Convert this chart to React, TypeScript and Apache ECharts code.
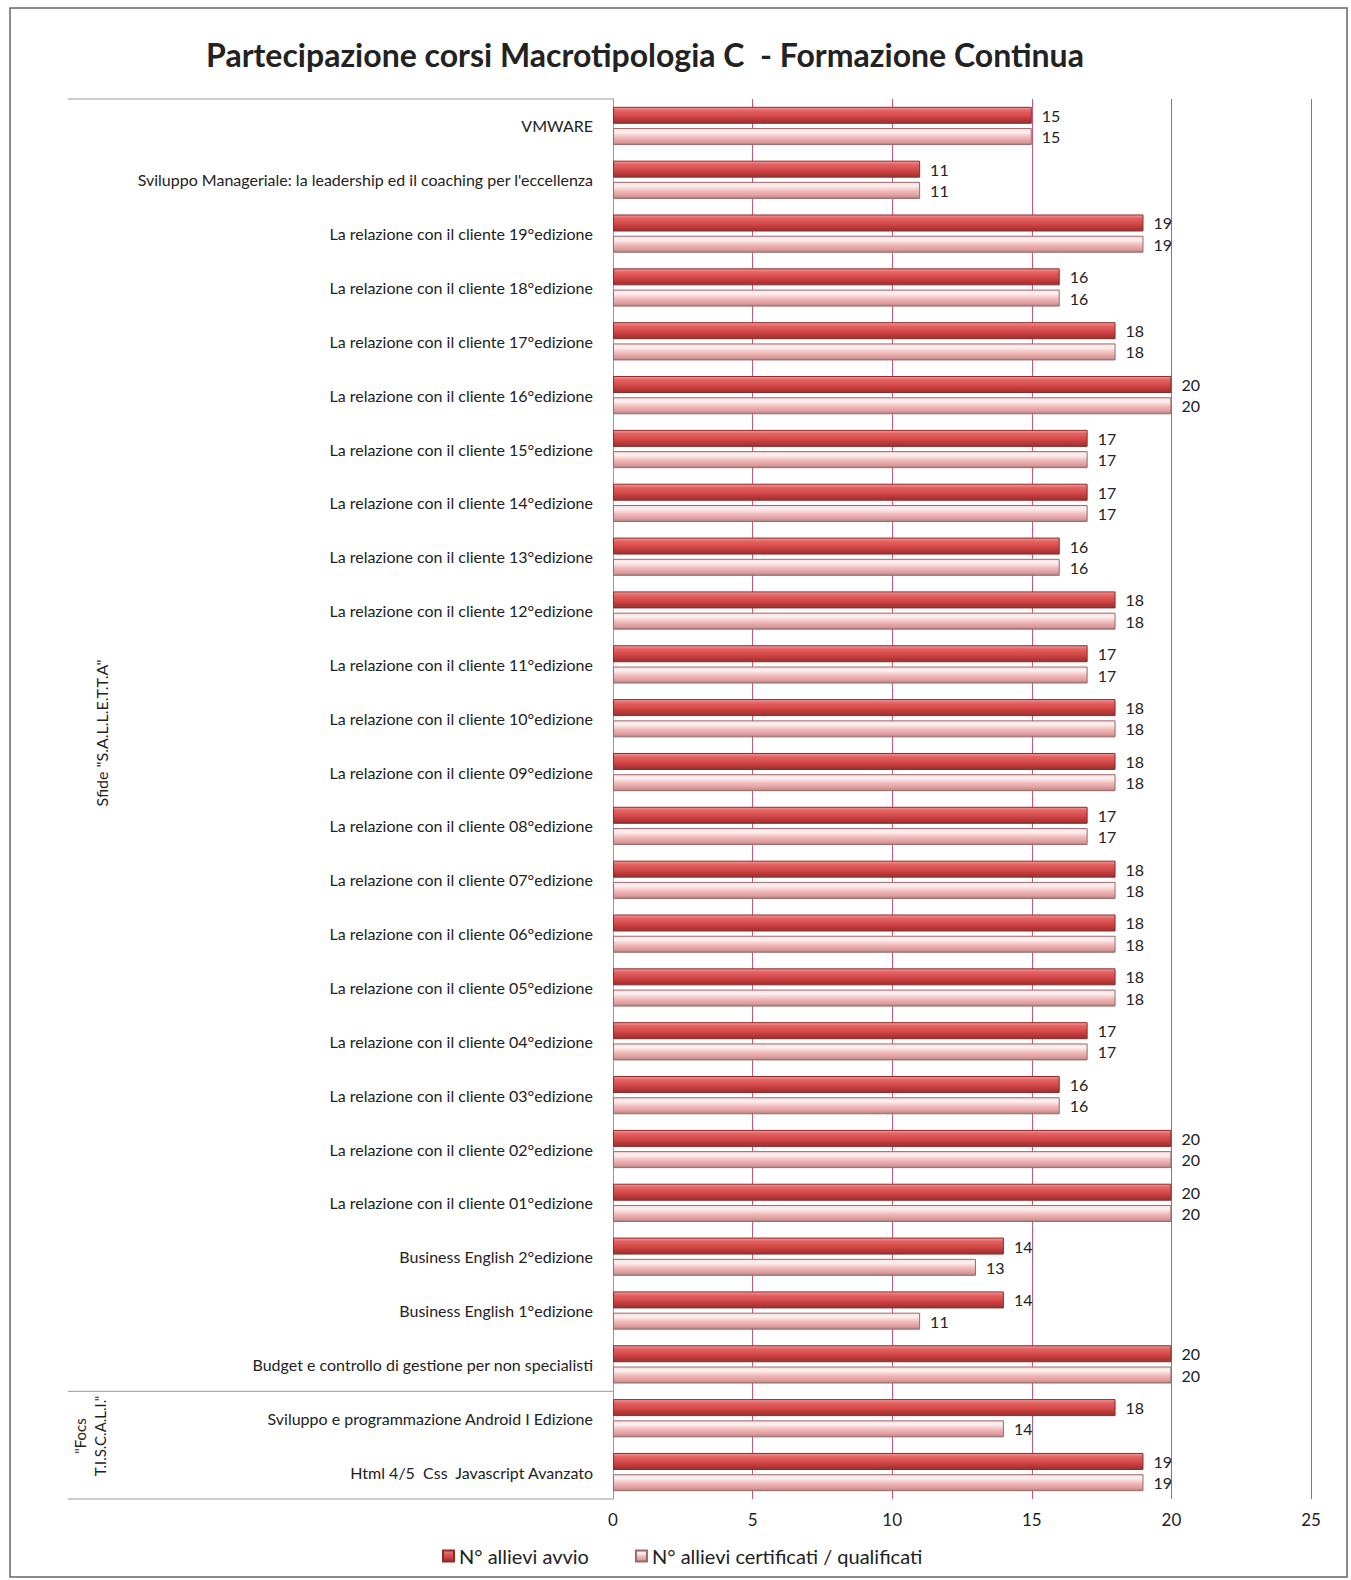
import React, { useEffect, useRef } from "react";
import * as echarts from "echarts";

const categories = [
  "VMWARE",
  "Sviluppo Manageriale: la leadership ed il coaching per l'eccellenza",
  "La relazione con il cliente 19°edizione",
  "La relazione con il cliente 18°edizione",
  "La relazione con il cliente 17°edizione",
  "La relazione con il cliente 16°edizione",
  "La relazione con il cliente 15°edizione",
  "La relazione con il cliente 14°edizione",
  "La relazione con il cliente 13°edizione",
  "La relazione con il cliente 12°edizione",
  "La relazione con il cliente 11°edizione",
  "La relazione con il cliente 10°edizione",
  "La relazione con il cliente 09°edizione",
  "La relazione con il cliente 08°edizione",
  "La relazione con il cliente 07°edizione",
  "La relazione con il cliente 06°edizione",
  "La relazione con il cliente 05°edizione",
  "La relazione con il cliente 04°edizione",
  "La relazione con il cliente 03°edizione",
  "La relazione con il cliente 02°edizione",
  "La relazione con il cliente 01°edizione",
  "Business English 2°edizione",
  "Business English 1°edizione",
  "Budget e controllo di gestione per non specialisti",
  "Sviluppo e programmazione Android I Edizione",
  "Html 4/5  Css  Javascript Avanzato",
];

const avvio = [15, 11, 19, 16, 18, 20, 17, 17, 16, 18, 17, 18, 18, 17, 18, 18, 18, 17, 16, 20, 20, 14, 14, 20, 18, 19];
const certificati = [15, 11, 19, 16, 18, 20, 17, 17, 16, 18, 17, 18, 18, 17, 18, 18, 18, 17, 16, 20, 20, 13, 11, 20, 14, 19];

const seriesNames = ["N° allievi avvio", "N° allievi certificati / qualificati"];
const groupLabels = ['Sfide "S.A.L.L.E.T.T.A"', '"Focs\nT.I.S.C.A.L.I."'];
const xTicks = { min: 0, max: 25, interval: 5 };

const FONT = "Lato, 'Open Sans', sans-serif";

export default function App() {
  const ref = useRef<HTMLDivElement>(null);
  useEffect(() => {
    document.body.style.margin = "0";
    const chart = echarts.init(ref.current!, null, { renderer: "svg" });
    const darkGrad = new echarts.graphic.LinearGradient(0, 0, 0, 1, [
      { offset: 0, color: "#f29c9c" },
      { offset: 0.2, color: "#e46464" },
      { offset: 0.55, color: "#d44848" },
      { offset: 0.85, color: "#b23434" },
      { offset: 1, color: "#8a3a3a" },
    ]);
    const lightGrad = new echarts.graphic.LinearGradient(0, 0, 0, 1, [
      { offset: 0, color: "#f8dede" },
      { offset: 0.22, color: "#fdf1f1" },
      { offset: 0.55, color: "#f1b9b9" },
      { offset: 0.85, color: "#dc9a9a" },
      { offset: 1, color: "#a88080" },
    ]);
    const labelCfg = {
      show: true,
      position: "right" as const,
      distance: 10,
      fontFamily: FONT,
      fontSize: 16,
      color: "#222",
    };
    const gridTop = 99;
    const gridBottomY = 1499;
    const n = categories.length;
    const band = (gridBottomY - gridTop) / n;
    const sepY = gridTop + band * 24;
    chart.setOption({
      animation: false,
      backgroundColor: "#fff",
      title: {
        text: "Partecipazione corsi Macrotipologia C  - Formazione Continua",
        left: 640,
        top: 33,
        textAlign: "center",
        textStyle: { fontFamily: FONT, fontSize: 32, fontWeight: "bold", color: "#222" },
      },
      legend: {
        data: seriesNames,
        left: 437,
        top: 1541,
        itemWidth: 11,
        itemHeight: 11,
        itemGap: 46,
        icon: "rect",
        textStyle: { fontFamily: FONT, fontSize: 20, color: "#222" },
      },
      grid: { left: 613, right: 40, top: gridTop, bottom: 1580 - gridBottomY, containLabel: false },
      xAxis: {
        type: "value",
        min: xTicks.min,
        max: xTicks.max,
        interval: xTicks.interval,
        axisLine: { show: false },
        axisTick: { show: false },
        axisLabel: { fontFamily: FONT, fontSize: 17, color: "#222", margin: 12 },
        splitLine: { show: true, lineStyle: { color: "#c9577a", width: 1 } },
      },
      yAxis: {
        type: "category",
        data: categories,
        inverse: true,
        axisLine: { show: true, lineStyle: { color: "#999", width: 1 } },
        axisTick: { show: false },
        axisLabel: { fontFamily: FONT, fontSize: 16, color: "#222", margin: 20 },
      },
      series: [
        {
          name: seriesNames[0],
          type: "bar",
          data: avvio,
          barWidth: 17,
          barGap: "25%",
          itemStyle: { color: darkGrad, borderColor: "#8e2a2a", borderWidth: 1 },
          label: labelCfg,
        },
        {
          name: seriesNames[1],
          type: "bar",
          data: certificati,
          barWidth: 17,
          barGap: "25%",
          itemStyle: { color: lightGrad, borderColor: "#9a6a6a", borderWidth: 1 },
          label: labelCfg,
        },
      ],
      graphic: [
        {
          type: "rect",
          shape: { x: 10, y: 8, width: 1337, height: 1569 },
          style: { fill: "none", stroke: "#666", lineWidth: 1.5 },
          silent: true,
        },
        {
          type: "line",
          shape: { x1: 68, y1: gridTop, x2: 613, y2: gridTop },
          style: { stroke: "#999", lineWidth: 1 },
          silent: true,
        },
        {
          type: "line",
          shape: { x1: 68, y1: sepY, x2: 613, y2: sepY },
          style: { stroke: "#999", lineWidth: 1 },
          silent: true,
        },
        {
          type: "line",
          shape: { x1: 68, y1: gridBottomY, x2: 613, y2: gridBottomY },
          style: { stroke: "#999", lineWidth: 1 },
          silent: true,
        },
        {
          type: "text",
          x: 101,
          y: 733,
          rotation: Math.PI / 2,
          style: {
            text: groupLabels[0],
            fontFamily: FONT,
            fontSize: 16,
            fill: "#222",
            align: "center",
            verticalAlign: "middle",
          },
          silent: true,
        },
        {
          type: "text",
          x: 90,
          y: 1436,
          rotation: Math.PI / 2,
          style: {
            text: groupLabels[1],
            fontFamily: FONT,
            fontSize: 15,
            lineHeight: 20,
            fill: "#222",
            align: "center",
            verticalAlign: "middle",
          },
          silent: true,
        },
      ],
    });
    return () => chart.dispose();
  }, []);
  return <div ref={ref} style={{ width: 1351, height: 1580 }} />;
}
